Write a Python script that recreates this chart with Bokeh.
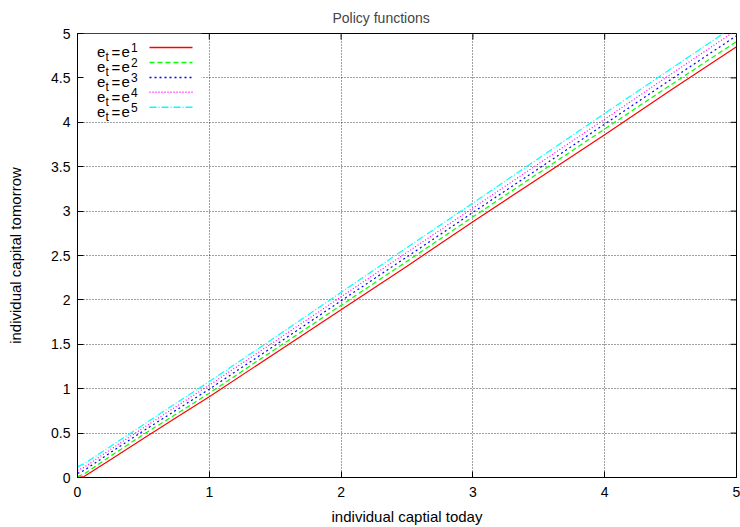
from bokeh.plotting import figure
from bokeh.models import Range1d, FixedTicker, NumeralTickFormatter, Label, BoxAnnotation
from bokeh.embed import file_html
from bokeh.resources import INLINE

# ---- data ----
capital_today = [0, 0.05, 0.25, 0.5, 0.75, 1, 1.5, 2, 2.5, 3, 3.5, 4, 4.5, 5]
k_next_e1 = [0.0, 0.01, 0.20, 0.44, 0.675, 0.91, 1.40, 1.89, 2.38, 2.88, 3.37, 3.86, 4.36, 4.85]
k_next_e2 = [0.01, 0.04, 0.24, 0.485, 0.715, 0.95, 1.445, 1.94, 2.435, 2.935, 3.43, 3.925, 4.42, 4.91]
k_next_e3 = [0.045, 0.08, 0.28, 0.525, 0.76, 0.995, 1.49, 1.99, 2.485, 2.985, 3.48, 3.98, 4.48, 4.975]
k_next_e4 = [0.08, 0.115, 0.315, 0.56, 0.80, 1.04, 1.535, 2.035, 2.535, 3.035, 3.535, 4.035, 4.54, 5.04]
k_next_e5 = [0.12, 0.155, 0.35, 0.595, 0.84, 1.08, 1.58, 2.085, 2.59, 3.09, 3.595, 4.10, 4.60, 5.10]
state_labels = ["1", "2", "3", "4", "5"]
x_ticks = [0, 1, 2, 3, 4, 5]
y_ticks = [0, 0.5, 1, 1.5, 2, 2.5, 3, 3.5, 4, 4.5, 5]
title_text = "Policy functions"

series = [k_next_e1, k_next_e2, k_next_e3, k_next_e4, k_next_e5]
colors = ["#ff0000", "#00ff00", "#0000ff", "#ff00ff", "#00ffff"]
dashes = ["solid", "5 3", "2 3", "1 2", "7 2 1 2"]

FONT = "Liberation Sans"
W, H = 740, 527
BL, BR, BT, BB = 77, 4, 33, 49
FRAME_W = W - BL - BR
FRAME_H = H - BT - BB
PX_X = FRAME_W / 5.0
PX_Y = FRAME_H / 5.0

p = figure(width=W, height=H, x_range=Range1d(0, 5), y_range=Range1d(0, 5),
           output_backend="svg", toolbar_location=None,
           min_border_left=BL, min_border_right=BR, min_border_top=BT, min_border_bottom=BB)

p.title.text = title_text
p.title.align = "left"
p.title.offset = 255
p.title.vertical_align = "top"
p.title.text_font = FONT
p.title.text_font_size = "14px"
p.title.text_font_style = "normal"
p.title.standoff = 12

p.outline_line_color = "black"
p.outline_line_width = 1
p.background_fill_color = "white"
p.border_fill_color = "white"

for ax in (p.xaxis[0], p.yaxis[0]):
    ax.major_tick_in = 6
    ax.major_tick_out = 0
    ax.minor_tick_in = 0
    ax.minor_tick_out = 0
    ax.axis_line_color = "black"
    ax.major_tick_line_color = "black"
    ax.major_label_text_font = FONT
    ax.major_label_text_font_size = "14px"
    ax.major_label_text_color = "black"
    ax.axis_label_text_font = FONT
    ax.axis_label_text_font_size = "15px"
    ax.axis_label_text_font_style = "normal"
    ax.axis_label_text_color = "black"

p.xaxis[0].ticker = FixedTicker(ticks=x_ticks)
p.xaxis[0].formatter = NumeralTickFormatter(format="0")
p.xaxis[0].axis_label = "individual captial today"
p.xaxis[0].major_label_standoff = 9
p.xaxis[0].axis_label_standoff = 8

p.yaxis[0].ticker = FixedTicker(ticks=y_ticks)
p.yaxis[0].formatter = NumeralTickFormatter(format="0.[0]")
p.yaxis[0].axis_label = "individual capital tomorrow"
p.yaxis[0].major_label_standoff = 7
p.yaxis[0].axis_label_standoff = 24

for g in (p.xgrid[0], p.ygrid[0]):
    g.grid_line_color = "black"
    g.grid_line_dash = "1 2"
    g.grid_line_alpha = 0.75
    g.grid_line_width = 1

# mirrored ticks on the top and right borders
p.ray(x=x_ticks, y=[5] * len(x_ticks), length=6, length_units="screen",
      angle=-90, angle_units="deg", line_color="black", line_width=1)
p.ray(x=[5] * len(y_ticks), y=y_ticks, length=6, length_units="screen",
      angle=180, angle_units="deg", line_color="black", line_width=1)

# key background (hides grid behind the key)
KEY_RIGHT_PX, KEY_BOTTOM_PX = 124, 80
p.add_layout(BoxAnnotation(left=0, right=KEY_RIGHT_PX / PX_X, bottom=5 - KEY_BOTTOM_PX / PX_Y, top=5,
                           fill_color="white", fill_alpha=1, line_color=None, level="underlay"))

for ys, c, d in zip(series, colors, dashes):
    p.line(capital_today, ys, line_color=c, line_width=1.2, line_dash=d)

# key entries
ROW0_PX, ROW_STEP_PX = 14, 15
for i, (lab, c, d) in enumerate(zip(state_labels, colors, dashes)):
    ry = 5 - (ROW0_PX + ROW_STEP_PX * i) / PX_Y
    p.line([72 / PX_X, 115 / PX_X], [ry, ry], line_color=c, line_width=1.5, line_dash=d)
    pieces = [("e", 19.5, -5, "15px"), ("t", 28, -10, "12px"),
              ("=", 34, -5, "15px"), ("e", 44, -5, "15px"), (lab, 53.5, 0, "12px")]
    for txt, xo, yo, fs in pieces:
        p.add_layout(Label(x=0, y=ry, x_offset=xo, y_offset=yo, text=txt,
                           text_font=FONT, text_font_size=fs, text_color="black",
                           text_baseline="alphabetic", text_align="left"))

open("out.html", "w").write(file_html(p, INLINE))
